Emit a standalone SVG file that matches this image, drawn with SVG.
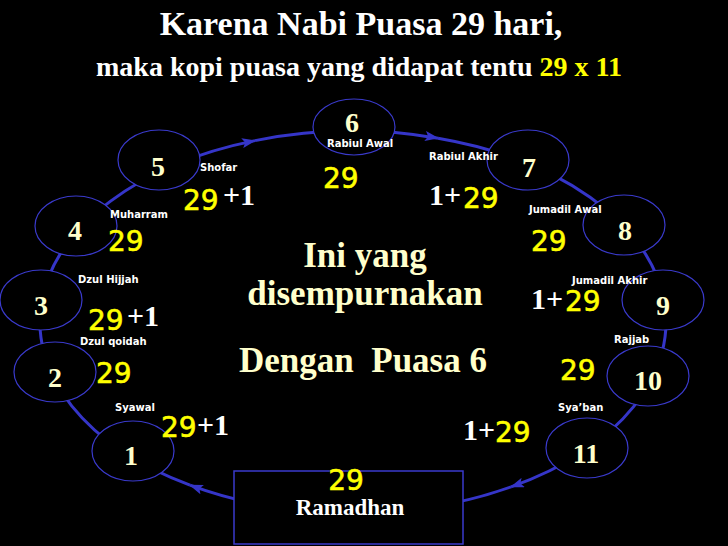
<svg xmlns="http://www.w3.org/2000/svg" width="728" height="546" viewBox="0 0 728 546">
<style>
.node{fill:#000;stroke:#3a3acc;stroke-width:1.2}
.num{font-family:"Liberation Serif","Times New Roman",serif;font-weight:bold;font-size:28px;fill:#FFFFCC;text-anchor:middle}
.lbl{font-family:"DejaVu Sans","Verdana",sans-serif;font-weight:bold;font-size:10px;fill:#fff}
.y{font-family:"DejaVu Sans","Verdana",sans-serif;font-size:28px;fill:#FFFF00;stroke:#FFFF00;stroke-width:0.6}
.w{font-family:"Liberation Serif","Times New Roman",serif;font-weight:bold;font-size:30px;fill:#fff}
.conn{fill:none;stroke:#3535c8;stroke-width:3}
.ctr{font-family:"Liberation Serif","Times New Roman",serif;font-weight:bold;font-size:35px;fill:#FFFFCC;text-anchor:middle}
</style>
<defs>
<marker id="arr" viewBox="0 0 14 10" refX="13" refY="5" markerWidth="14" markerHeight="10" markerUnits="userSpaceOnUse" orient="auto">
<path d="M0,0 L14,5 L0,10 L3,5 z" fill="#3535c8"/>
</marker>
</defs>
<rect x="0" y="0" width="728" height="546" fill="#000"/>
<g id="title">
<text x="361" y="35" text-anchor="middle" font-family="'Liberation Serif','Times New Roman',serif" font-weight="bold" font-size="34" fill="#fff">Karena Nabi Puasa 29 hari,</text>
<text x="359" y="76" text-anchor="middle" font-family="'Liberation Serif','Times New Roman',serif" font-weight="bold" font-size="28" fill="#fff">maka kopi puasa yang didapat tentu <tspan fill="#FFFF00">29 x 11</tspan></text>
</g>
<g id="connectors">
<path class="conn" d="M511,486.9 A313,191 0 0 1 190,485.1" marker-end="url(#arr)"/>
<path class="conn" d="M190,485.1 A313,191 0 0 1 255,140.6" marker-end="url(#arr)"/>
<path class="conn" d="M255,140.6 A313,191 0 0 1 438,138.2" marker-end="url(#arr)"/>
<path class="conn" d="M438,138.2 A313,191 0 0 1 511,486.9" marker-end="url(#arr)"/>
</g>
<g id="center">
<text class="ctr" x="365" y="267">Ini yang</text>
<text class="ctr" x="365" y="305">disempurnakan</text>
<text class="ctr" x="363" y="372" xml:space="preserve">Dengan  Puasa 6</text>
</g>
<g id="ramadhan">
<rect x="234" y="471" width="229" height="73" fill="#000" stroke="#3a3acc" stroke-width="1.5"/>
<text class="y" x="346" y="490" text-anchor="middle">29</text>
<text x="350" y="515" text-anchor="middle" font-family="'Liberation Serif','Times New Roman',serif" font-weight="bold" font-size="23" fill="#fff">Ramadhan</text>
</g>
<g id="node1">
<ellipse class="node" cx="133" cy="451" rx="41" ry="30"/>
<text class="num" x="131" y="465">1</text>
<text class="lbl" x="115" y="411">Syawal</text>
<text class="y" x="161" y="437">29</text>
<text class="w" x="197" y="435">+1</text>
</g>
<g id="node2">
<ellipse class="node" cx="55" cy="372" rx="41" ry="30"/>
<text class="num" x="55" y="387">2</text>
<text class="lbl" x="80" y="345">Dzul qoidah</text>
<text class="y" x="96" y="383">29</text>
</g>
<g id="node3">
<ellipse class="node" cx="41" cy="300" rx="41" ry="30"/>
<text class="num" x="41" y="315">3</text>
<text class="lbl" x="78" y="283">Dzul Hijjah</text>
<text class="y" x="88" y="330">29</text>
<text class="w" x="127" y="326">+1</text>
</g>
<g id="node4">
<ellipse class="node" cx="76" cy="226" rx="41" ry="30"/>
<text class="num" x="75" y="240">4</text>
<text class="lbl" x="110" y="218">Muharram</text>
<text class="y" x="108" y="251">29</text>
</g>
<g id="node5">
<ellipse class="node" cx="159" cy="160" rx="41" ry="30"/>
<text class="num" x="158" y="176">5</text>
<text class="lbl" x="200" y="171">Shofar</text>
<text class="y" x="183" y="210">29</text>
<text class="w" x="223" y="205">+1</text>
</g>
<g id="node6">
<ellipse class="node" cx="354" cy="127" rx="41" ry="28"/>
<text class="num" x="352" y="132">6</text>
<text class="lbl" x="327" y="147">Rabiul Awal</text>
<text class="y" x="323" y="188">29</text>
</g>
<g id="node7">
<ellipse class="node" cx="528" cy="160" rx="41" ry="30"/>
<text class="num" x="529" y="177">7</text>
<text class="lbl" x="429" y="160">Rabiul Akhir</text>
<text class="w" x="429" y="205">1+</text>
<text class="y" x="463" y="208">29</text>
</g>
<g id="node8">
<ellipse class="node" cx="624" cy="225" rx="41" ry="30"/>
<text class="num" x="625" y="240">8</text>
<text class="lbl" x="529" y="213">Jumadil Awal</text>
<text class="y" x="531" y="251">29</text>
</g>
<g id="node9">
<ellipse class="node" cx="663" cy="300" rx="41" ry="30"/>
<text class="num" x="663" y="315">9</text>
<text class="lbl" x="572" y="284">Jumadil Akhir</text>
<text class="w" x="531" y="309">1+</text>
<text class="y" x="565" y="311">29</text>
</g>
<g id="node10">
<ellipse class="node" cx="648" cy="376" rx="41" ry="30"/>
<text class="num" x="648" y="390">10</text>
<text class="lbl" x="614" y="343">Rajjab</text>
<text class="y" x="560" y="380">29</text>
</g>
<g id="node11">
<ellipse class="node" cx="587" cy="448" rx="41" ry="30"/>
<text class="num" x="586" y="463">11</text>
<text class="lbl" x="558" y="411">Sya’ban</text>
<text class="w" x="463" y="440">1+</text>
<text class="y" x="495" y="442">29</text>
</g>
</svg>
